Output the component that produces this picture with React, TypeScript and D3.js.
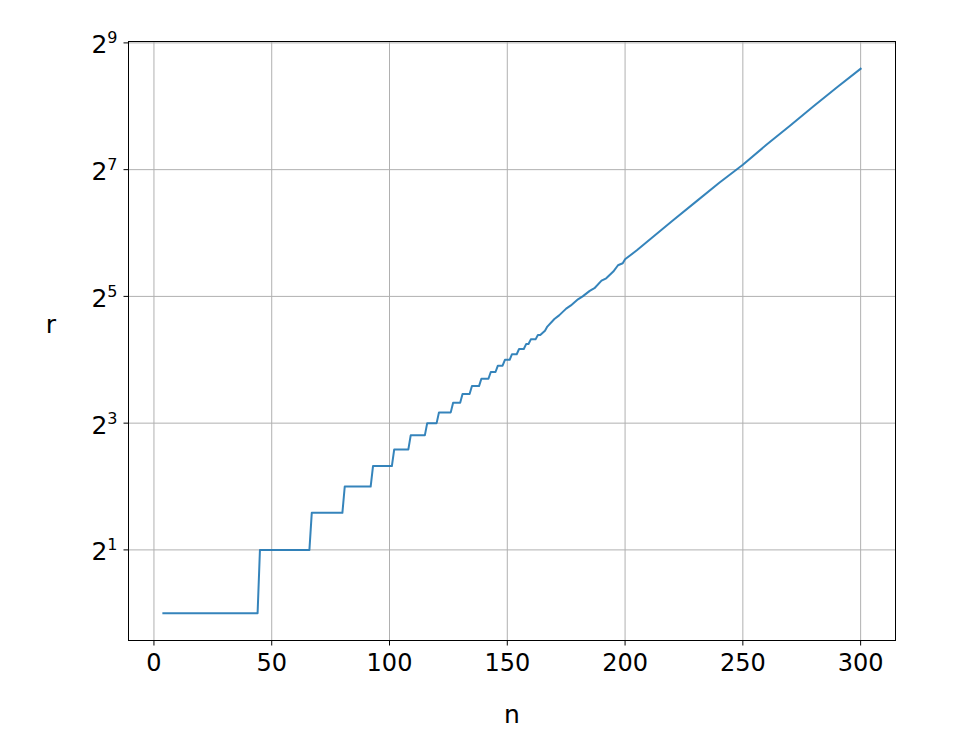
import React from "react";
import * as d3 from "d3";

// Step-shaped growth of r with n
const nValues = [
  4, 44, 45, 66, 67, 80, 81, 92, 93, 101, 102, 108, 109, 115, 116, 120, 121, 126,
  127, 130, 131, 134, 135, 138, 139, 142, 143, 145, 146, 148, 149, 151, 152, 154,
  155, 157, 158, 159, 160, 162, 163, 164, 166, 167, 170, 172, 175, 177, 180, 182,
  185, 187, 190, 192, 195, 197, 199, 200, 205, 210, 220, 230, 240, 250, 260, 270,
  280, 290, 300,
];
const rValues = [
  1, 1, 2, 2, 3, 3, 4, 4, 5, 5, 6, 6, 7, 7, 8, 8, 9, 9,
  10, 10, 11, 11, 12, 12, 13, 13, 14, 14, 15, 15, 16, 16, 17, 17,
  18, 18, 19, 19, 20, 20, 21, 21, 22, 23, 25, 26, 28, 29, 31, 32,
  34, 35, 38, 39, 42, 45, 46, 48, 53, 59, 73, 90, 111, 135, 168, 207,
  256, 315, 386,
];

const xTicks = [0, 50, 100, 150, 200, 250, 300];
const yTickExponents = [1, 3, 5, 7, 9];

const W = 968;
const H = 748;
const M = { left: 128.5, right: 895.5, top: 41.5, bottom: 640.5 };

export default function App() {
  const data = nValues.map((n, i) => ({ n, r: rValues[i] }));

  const nMin = d3.min(nValues) as number;
  const nMax = d3.max(nValues) as number;
  const nPad = (nMax - nMin) * 0.05;
  const x = d3.scaleLinear().domain([nMin - nPad, nMax + nPad]).range([M.left, M.right]);

  const lMin = Math.log2(d3.min(rValues) as number);
  const lMax = Math.log2(d3.max(rValues) as number);
  const lPad = (lMax - lMin) * 0.05;
  const y = d3
    .scaleLog()
    .base(2)
    .domain([Math.pow(2, lMin - lPad), Math.pow(2, lMax + lPad)])
    .range([M.bottom, M.top]);

  const line = d3
    .line<{ n: number; r: number }>()
    .x((d) => x(d.n))
    .y((d) => y(d.r));

  const font = "DejaVu Sans, sans-serif";
  const tickLen = 5;

  return (
    <div style={{ position: "absolute", left: 0, top: 0 }}>
      <svg width={W} height={H} style={{ display: "block", background: "#fff" }}>
        <rect x={0} y={0} width={W} height={H} fill="#fff" />
        {/* grid */}
        <g stroke="#b0b0b0" strokeWidth={1}>
          {xTicks.map((t) => (
            <line key={"gx" + t} x1={x(t)} x2={x(t)} y1={M.top} y2={M.bottom} />
          ))}
          {yTickExponents
            .filter((e) => y(Math.pow(2, e)) > M.top + 1)
            .map((e) => (
              <line key={"gy" + e} x1={M.left} x2={M.right} y1={y(Math.pow(2, e))} y2={y(Math.pow(2, e))} />
            ))}
        </g>
        {/* data line */}
        <path
          d={line(data) || ""}
          fill="none"
          stroke="#1f77b4"
          strokeWidth={2}
          strokeLinejoin="round"
          strokeLinecap="square"
          opacity={0.9}
        />
        {/* spines */}
        <rect
          x={M.left}
          y={M.top}
          width={M.right - M.left}
          height={M.bottom - M.top}
          fill="none"
          stroke="#000"
          strokeWidth={1}
        />
        {/* x ticks */}
        <g fontFamily={font} fontSize={24} fill="#000" textAnchor="middle">
          {xTicks.map((t) => (
            <g key={"xt" + t}>
              <line x1={x(t)} x2={x(t)} y1={M.bottom} y2={M.bottom + tickLen} stroke="#000" strokeWidth={1} />
              <text x={x(t)} y={M.bottom + 30}>
                {t}
              </text>
            </g>
          ))}
        </g>
        {/* y ticks */}
        <g fontFamily={font} fill="#000">
          {yTickExponents.map((e) => {
            const yy = y(Math.pow(2, e));
            return (
              <g key={"yt" + e}>
                <line x1={M.left - tickLen} x2={M.left} y1={yy} y2={yy} stroke="#000" strokeWidth={1} />
                <text x={M.left - 11} y={yy + 10.6} textAnchor="end" fontSize={25}>
                  <tspan>2</tspan>
                  <tspan fontSize={16} dy={-10}>
                    {e}
                  </tspan>
                </text>
              </g>
            );
          })}
        </g>
        {/* axis labels */}
        <text x={(M.left + M.right) / 2} y={723} textAnchor="middle" fontFamily={font} fontSize={25}>
          n
        </text>
        <text x={51} y={333} textAnchor="middle" fontFamily={font} fontSize={25}>
          r
        </text>
      </svg>
    </div>
  );
}
